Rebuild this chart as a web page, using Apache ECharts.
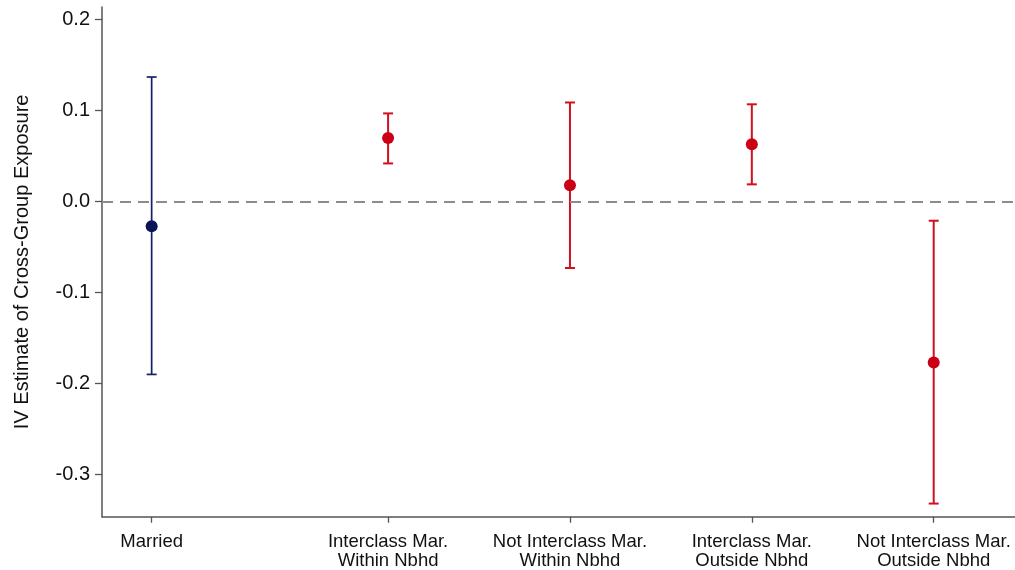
<!DOCTYPE html>
<html>
<head>
<meta charset="utf-8">
<script src="https://cdn.jsdelivr.net/npm/echarts@6/dist/echarts.min.js"></script>
<style>
html,body{margin:0;padding:0;background:#fff;}
#chart{width:1015px;height:570px;}
</style>
</head>
<body>
<div id="chart"></div>
<script>
// ---- data ----
const categories = [
  "Married",
  "Interclass Mar.\nWithin Nbhd",
  "Not Interclass Mar.\nWithin Nbhd",
  "Interclass Mar.\nOutside Nbhd",
  "Not Interclass Mar.\nOutside Nbhd"
];
const xPositions = [1, 2.3, 3.3, 4.3, 5.3];
const estimates = [-0.027, 0.070, 0.018, 0.063, -0.177];
const ciLower   = [-0.190, 0.042, -0.073, 0.019, -0.332];
const ciUpper   = [0.137, 0.097, 0.109, 0.107, -0.021];
const groups    = ["married", "sub", "sub", "sub", "sub"];
const yTicks    = [-0.3, -0.2, -0.1, 0.0, 0.1, 0.2];

// ---- styles ----
const lineColors  = { married: "#16206a", sub: "#d0101e" };
const pointColors = { married: "#0b1456", sub: "#cc0014" };
const FONT = "Liberation Sans, Arial, Helvetica, sans-serif";

const chart = echarts.init(document.getElementById("chart"), null, { renderer: "canvas" });

const barData = xPositions.map((x, i) => [x, ciLower[i], ciUpper[i], i]);
const pointData = xPositions.map((x, i) => ({
  value: [x, estimates[i]],
  itemStyle: { color: pointColors[groups[i]], opacity: 1 }
}));

const option = {
  backgroundColor: "#ffffff",
  animation: false,
  grid: { left: 102, right: 0, top: 7, bottom: 53, containLabel: false },
  xAxis: {
    type: "value",
    min: 0.727,
    max: 5.747,
    splitLine: { show: false },
    axisLine: { show: true, onZero: false, lineStyle: { color: "#555555", width: 1.5 } },
    axisTick: { show: true, customValues: xPositions, length: 6, lineStyle: { color: "#555555", width: 1.3 } },
    axisLabel: {
      customValues: xPositions,
      formatter: function (v) {
        const idx = xPositions.findIndex(p => Math.abs(p - v) < 1e-6);
        return idx >= 0 ? categories[idx] : "";
      },
      fontFamily: FONT, fontSize: 18.5, color: "#111111",
      lineHeight: 18.5, margin: 16
    }
  },
  yAxis: {
    type: "value",
    min: -0.3465,
    max: 0.214,
    name: "IV Estimate of Cross-Group Exposure",
    nameLocation: "middle",
    nameGap: 70,
    nameTextStyle: { fontFamily: FONT, fontSize: 20, color: "#111111" },
    splitLine: { show: false },
    axisLine: { show: true, onZero: false, lineStyle: { color: "#555555", width: 1.5 } },
    axisTick: { show: true, customValues: yTicks, length: 7, lineStyle: { color: "#555555", width: 1.3 } },
    axisLabel: {
      customValues: yTicks,
      formatter: v => Number(v).toFixed(1),
      fontFamily: FONT, fontSize: 20, color: "#111111", margin: 12
    }
  },
  series: [
    {
      type: "custom",
      data: barData,
      encode: { x: 0, y: [1, 2] },
      renderItem: function (params, api) {
        const x = api.value(0);
        const lo = api.coord([x, api.value(1)]);
        const hi = api.coord([x, api.value(2)]);
        const g = groups[api.value(3)];
        const color = lineColors[g];
        const w = g === "married" ? 1.7 : 2;
        const half = 5;
        const style = { stroke: color, lineWidth: w, fill: null };
        return {
          type: "group",
          children: [
            { type: "line", shape: { x1: lo[0], y1: lo[1], x2: hi[0], y2: hi[1] }, style: style },
            { type: "line", shape: { x1: lo[0] - half, y1: lo[1], x2: lo[0] + half, y2: lo[1] }, style: style },
            { type: "line", shape: { x1: hi[0] - half, y1: hi[1], x2: hi[0] + half, y2: hi[1] }, style: style }
          ]
        };
      },
      z: 2
    },
    {
      type: "scatter",
      data: pointData,
      symbol: "circle",
      symbolSize: 12,
      itemStyle: { opacity: 1 },
      z: 3,
      markLine: {
        silent: true,
        symbol: ["none", "none"],
        label: { show: false },
        lineStyle: { color: "#8c8c8c", width: 2, type: [11, 7], opacity: 1 },
        data: [{ yAxis: 0 }]
      }
    }
  ]
};

chart.setOption(option);
</script>
</body>
</html>
